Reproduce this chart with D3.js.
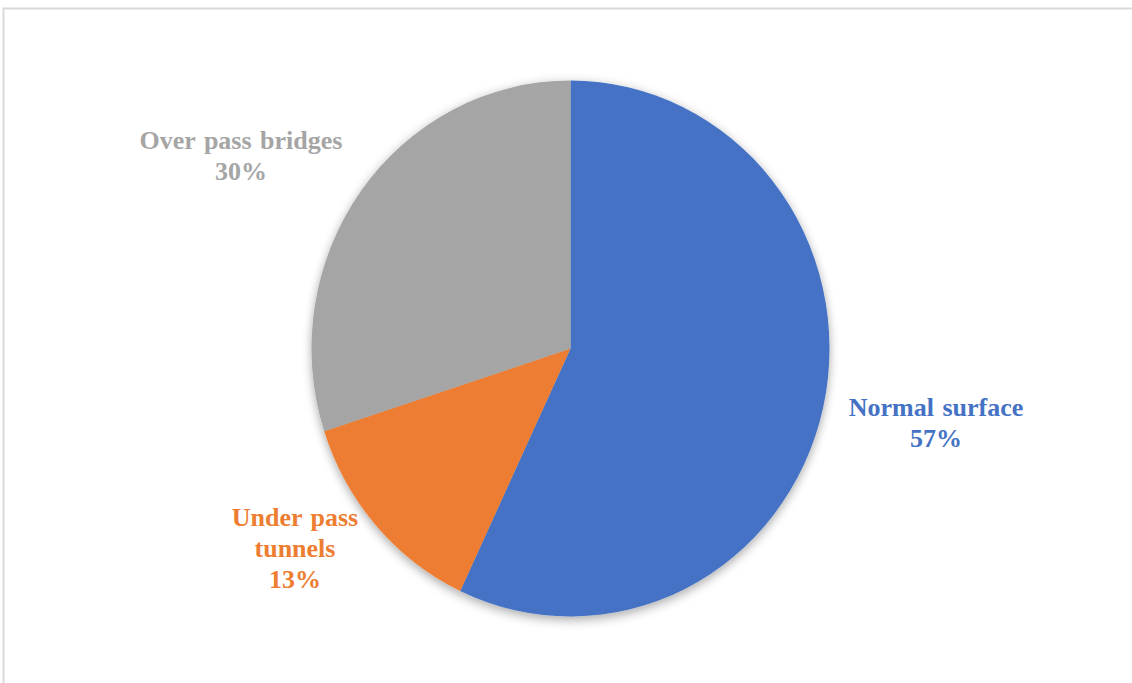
<!DOCTYPE html>
<html>
<head>
<meta charset="utf-8">
<script src="https://cdn.jsdelivr.net/npm/d3@7"></script>
<style>
  html, body { margin: 0; padding: 0; background: #ffffff; }
  svg { display: block; }
</style>
</head>
<body>
<svg id="chart" width="1132" height="683"></svg>
<script>
// Road segment types and their shares of the network (%)
const categories = ["Normal surface", "Under pass tunnels", "Over pass bridges"];
const shares = [57, 13, 30];
const colors = ["#4472C4", "#ED7D31", "#A5A5A5"];
// label lines per slice (name split across lines, then percentage)
const labelLines = [
  ["Normal surface"],
  ["Under pass", "tunnels"],
  ["Over pass bridges"]
];

const svg = d3.select("#chart");
const W = 1132, H = 683;

// chart frame (clipped at right and bottom)
svg.append("rect")
  .attr("x", 3.5).attr("y", 8.5)
  .attr("width", W + 10).attr("height", H + 10)
  .attr("fill", "#ffffff")
  .attr("stroke", "#d9d9d9")
  .attr("stroke-width", 2);

// soft drop shadow under the pie
const defs = svg.append("defs");
const f = defs.append("filter").attr("id", "shadow")
  .attr("x", "-20%").attr("y", "-20%").attr("width", "140%").attr("height", "140%");
f.append("feDropShadow")
  .attr("dx", 0).attr("dy", 3)
  .attr("stdDeviation", 5)
  .attr("flood-color", "#000000")
  .attr("flood-opacity", 0.35);

const cx = 570.5, cy = 348.5, rx = 259, ry = 268;

const pie = d3.pie().sort(null).value(d => d);
const arcs = pie(shares);
const arc = d3.arc().innerRadius(0).outerRadius(rx);

const g = svg.append("g")
  .attr("transform", `translate(${cx},${cy}) scale(1,${ry / rx})`);

const slices = g.append("g").attr("filter", "url(#shadow)");
slices.selectAll("path")
  .data(arcs)
  .join("path")
  .attr("d", arc)
  .attr("fill", (d, i) => colors[i]);

// label anchor positions (centre of the top line) per slice
const labelPos = [
  { x: 936, y: 416 },
  { x: 295, y: 526 },
  { x: 241, y: 149 }
];
const lineH = 31;

arcs.forEach((a, i) => {
  const lines = labelLines[i].concat([Math.round(a.value) + "%"]);
  const t = svg.append("text")
    .attr("text-anchor", "middle")
    .attr("font-family", "'Liberation Serif', 'Times New Roman', serif")
    .attr("font-weight", "bold")
    .attr("font-size", 26)
    .attr("word-spacing", 2)
    .attr("fill", colors[i]);
  lines.forEach((s, k) => {
    t.append("tspan")
      .attr("x", labelPos[i].x)
      .attr("y", labelPos[i].y + k * lineH)
      .text(s);
  });
});
</script>
</body>
</html>
